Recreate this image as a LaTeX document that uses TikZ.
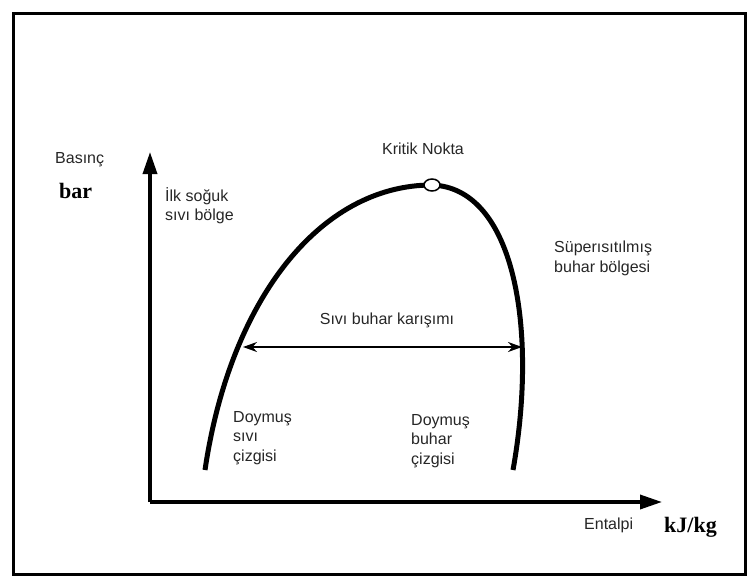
\documentclass[tikz,border=0pt]{standalone}
\usepackage{fontspec}
\setmainfont{Liberation Sans}
\newfontfamily\serifbold{Liberation Serif}
\usetikzlibrary{arrows.meta,shapes.geometric}
\tikzset{
  lbl/.style={font=\fontsize{16}{19.5}\selectfont, text=black!85, align=left, inner sep=0pt},
  unitlbl/.style={font=\serifbold\bfseries\fontsize{22}{24}\selectfont, inner sep=0pt},
  axis/.style={line width=3.5pt, -{Triangle[length=22pt,width=14pt]}},
  curve/.style={line width=5pt},
  dbl/.style={line width=2pt, {Stealth[length=14pt,width=10pt]}-{Stealth[length=14pt,width=10pt]}},
  frame/.style={line width=3pt}
}
\begin{document}
\begin{tikzpicture}[x=1pt,y=-1pt]
\useasboundingbox (0,0) rectangle (749,581);
\draw[frame] (13,13) rectangle (745,574);
% axes
\coordinate (o) at (150,502);
\coordinate (ytop) at (150,152);
\coordinate (xend) at (662,502);
\draw[axis] (o) -- (ytop);
\draw[axis] (o) -- (xend);
% curve
\coordinate (l0) at (205,470);
\coordinate (cp) at (432,185);
\coordinate (r0) at (513,470);
\draw[curve] (l0) .. controls (230,300) and (320,185) .. (cp);
\draw[curve] (cp) .. controls (515,188) and (538,330) .. (r0);
\node[draw=black, line width=1.5pt, fill=white, ellipse, minimum width=16pt, minimum height=12pt, inner sep=0pt] (kp) at (cp) {};
% double arrow
\coordinate (dl) at (243,347);
\coordinate (dr) at (522,347);
\draw[dbl] (dl) -- (dr);
% labels
\node[lbl, anchor=west] (bas) at (55,160) {Basınç};
\node[unitlbl, anchor=west] (bar) at (59,191) {bar};
\node[lbl, anchor=north west] (ilk) at (165,187) {İlk soğuk\\sıvı bölge};
\node[lbl] (kn) at (423,149) {Kritik Nokta};
\node[lbl, anchor=north west] (sup) at (554,241) {Süperısıtılmış\\buhar bölgesi};
\node[lbl] (sbk) at (387,320) {Sıvı buhar karışımı};
\node[lbl, anchor=north west] (dsc) at (233,411) {Doymuş\\sıvı\\çizgisi};
\node[lbl, anchor=north west] (dbc) at (411,414) {Doymuş\\buhar\\çizgisi};
\node[lbl, anchor=west] (ent) at (584,525) {Entalpi};
\node[unitlbl, anchor=west] (kj) at (664,527) {kJ/kg};
\end{tikzpicture}
\end{document}
